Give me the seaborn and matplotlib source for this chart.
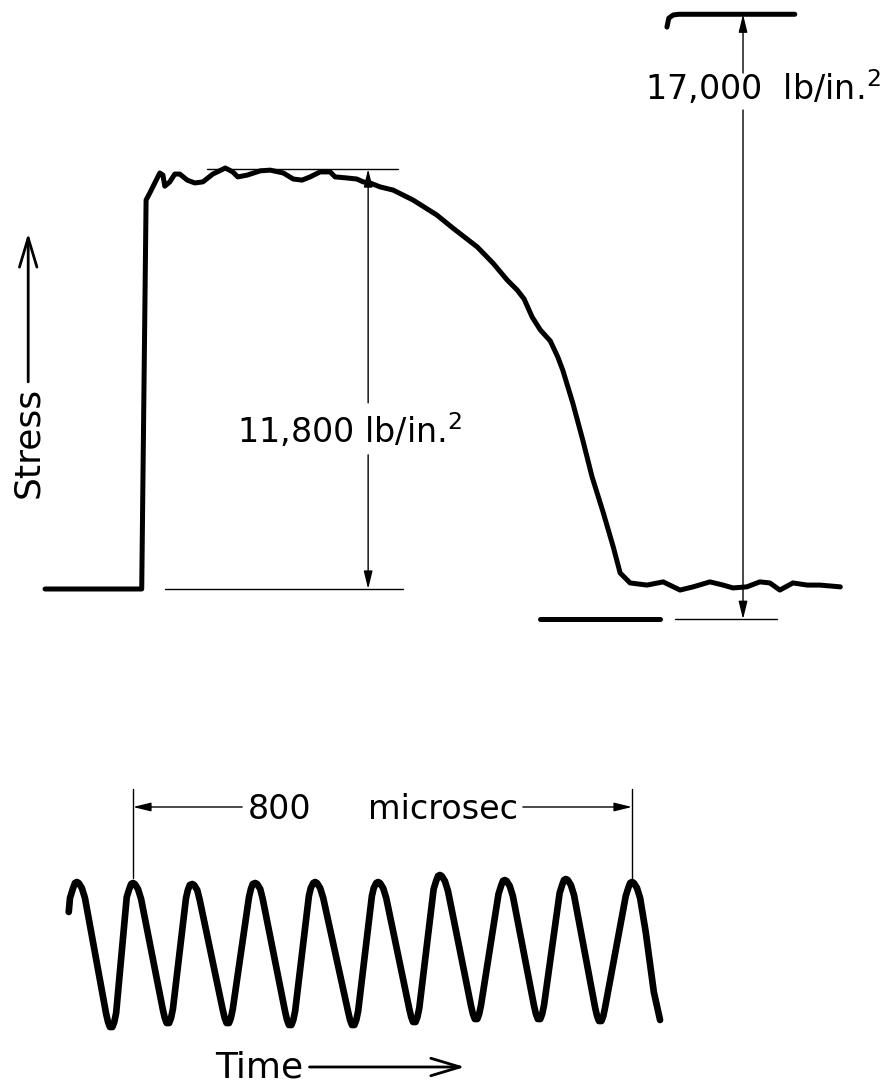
import matplotlib
matplotlib.use("Agg")
import numpy as np
import pandas as pd
import seaborn as sns
import matplotlib.pyplot as plt

# ---------------- data (time in microseconds, stress in lb/in^2) ----------------
stress_time = [-141, 14, 21, 27, 35, 43, 48, 51, 59, 67, 75, 87, 99, 112, 128, 148,
               160, 168, 183, 204, 220, 241, 257, 271, 284, 300, 316, 324, 343, 359,
               369, 380, 396, 417, 449, 487, 513, 552, 577, 600, 616, 627, 640, 653,
               669, 681, 689, 705, 721, 736, 754, 770, 781, 797, 824, 850, 877, 898,
               925, 946, 962, 984, 1005, 1021, 1037, 1058, 1081, 1101, 1134]
stress_value = [0, 0, 10930, 11130, 11410, 11690, 11630, 11320, 11440, 11660, 11660,
                11490, 11410, 11440, 11660, 11830, 11720, 11580, 11630, 11750, 11770,
                11690, 11520, 11490, 11580, 11720, 11720, 11580, 11550, 11520, 11440,
                11410, 11300, 11210, 10930, 10510, 10140, 9610, 9160, 8680, 8400, 8150,
                7640, 7280, 6970, 6520, 6150, 5230, 4190, 3150, 2140, 1180, 450, 170,
                110, 200, -30, 60, 200, 110, 30, 60, 200, 170, -30, 170, 110, 110, 60]

# upper reference trace (17,000 lb/in^2 level) and lower reference trace
upper_ref_time = [856, 859, 866, 875, 1061]
upper_ref_value = [15790, 16040, 16130, 16150, 16150]
lower_ref_time = [652, 845]
lower_ref_value = [-850, -850]

# dimension values
dim_small = 11800
dim_large = 17000
dim_large_base = -850

# timing wave (10 kHz, arbitrary amplitude units)
wave_time = [-103, -101, -96, -93, -90, -87, -82, -77,
             -43, -40, -37, -33, -30, -27,
             -10, -6, -3, 0, 3, 8, 13,
             48, 51, 54, 58, 61, 64,
             85, 88, 91, 95, 98, 103, 107,
             144, 147, 150, 154, 157, 160,
             186, 189, 192, 196, 199, 204, 208,
             244, 247, 250, 254, 257, 260,
             282, 285, 289, 292, 295, 300, 305,
             345, 348, 351, 355, 358, 361,
             383, 386, 390, 393, 396, 401, 406,
             443, 446, 449, 453, 456, 459,
             482, 486, 489, 492, 495, 500, 505,
             542, 545, 548, 552, 555, 558,
             586, 590, 593, 596, 599, 604, 609,
             643, 646, 649, 653, 656, 659,
             684, 688, 691, 694, 697, 702, 707,
             741, 744, 747, 751, 754, 757,
             790, 794, 797, 800, 803, 808, 813,
             822, 835, 845]
wave_value = [38, 52, 62, 67, 68, 67, 62, 52,
              -64, -72, -77, -77, -72, -63,
              53, 61, 66, 67, 66, 61, 51,
              -60, -68, -73, -73, -68, -59,
              52, 60, 65, 66, 65, 60, 50,
              -60, -68, -73, -73, -68, -59,
              53, 61, 66, 67, 66, 61, 51,
              -62, -70, -75, -75, -70, -61,
              54, 62, 67, 68, 67, 62, 52,
              -62, -70, -75, -75, -70, -61,
              54, 62, 67, 68, 67, 62, 52,
              -59, -67, -72, -72, -67, -58,
              61, 69, 74, 75, 74, 69, 59,
              -56, -64, -69, -69, -64, -55,
              56, 64, 69, 70, 69, 64, 54,
              -56, -64, -69, -69, -64, -55,
              57, 65, 70, 71, 70, 65, 55,
              -58, -66, -71, -71, -66, -57,
              54, 62, 67, 68, 67, 62, 52,
              18, -42, -70]
timing_span = [0, 800]

# ---------------- figure ----------------
sns.set_theme(style="white")
plt.rcParams["font.family"] = ["DejaVu Sans"]

fig = plt.figure(figsize=(8.84, 10.85), dpi=100)
ax = fig.add_axes([0, 0, 1, 1])
ax2 = fig.add_axes([0, 0, 1, 1])
for a in (ax, ax2):
    a.set_axis_off()
    a.patch.set_alpha(0)
    a.set_xlim(-213.2, 1204.0)
ax.set_ylim(-13938, 16551)
ax2.set_ylim(-135, 950)

K = "black"
thick = dict(color=K, lw=3.6, solid_capstyle="round", solid_joinstyle="round")

sns.lineplot(x=stress_time, y=stress_value, ax=ax, sort=False, estimator=None, **thick)
sns.lineplot(x=upper_ref_time, y=upper_ref_value, ax=ax, sort=False, estimator=None, **thick)
sns.lineplot(x=lower_ref_time, y=lower_ref_value, ax=ax, sort=False, estimator=None, **thick)
sns.lineplot(x=wave_time, y=wave_value, ax=ax2, sort=False, estimator=None,
             color=K, lw=4.8, solid_capstyle="round", solid_joinstyle="round")

thin = dict(color=K, lw=1.0)
small_head = dict(arrowstyle="-|>,head_length=0.9,head_width=0.22", color=K, lw=1.0,
                  mutation_scale=12, shrinkA=0, shrinkB=0)
big_head = dict(arrowstyle="->,head_length=1.5,head_width=0.45", color=K, lw=2.0,
                mutation_scale=14, shrinkA=0, shrinkB=0)

# 11,800 dimension
ax.plot([119, 425], [dim_small, dim_small], **thin)
ax.plot([51, 433], [0, 0], **thin)
ax.annotate("", xy=(377, dim_small), xytext=(377, 5230), arrowprops=small_head)
ax.annotate("", xy=(377, 0), xytext=(377, 3770), arrowprops=small_head)
ax.text(167, 4100, "11,800 lb/in.$^{\\mathregular{2}}$", ha="left", va="baseline",
        fontsize=24, color=K)

# 17,000 dimension
ax.plot([869, 1032], [dim_large_base, dim_large_base], **thin)
ax.annotate("", xy=(978, dim_large_base + dim_large), xytext=(978, 14500), arrowprops=small_head)
ax.annotate("", xy=(978, dim_large_base), xytext=(978, 13460), arrowprops=small_head)
ax.text(821, 13740, "17,000  lb/in.$^{\\mathregular{2}}$", ha="left", va="baseline",
        fontsize=24, color=K)

# Stress axis label
ax.text(-168, 4130, "Stress", rotation=90, ha="center", va="center", fontsize=26, color=K)
ax.annotate("", xy=(-168, 10000), xytext=(-168, 5820), arrowprops=big_head)

# timing markers
for t in timing_span:
    ax2.plot([t, t], [72, 161], **thin)
ax2.annotate("", xy=(timing_span[0], 143), xytext=(175, 143), arrowprops=small_head)
ax2.annotate("", xy=(timing_span[1], 143), xytext=(625, 143), arrowprops=small_head)
ax2.text(184, 131, "800", ha="left", va="baseline", fontsize=24, color=K)
ax2.text(617, 131, "microsec", ha="right", va="baseline", fontsize=24, color=K)

# Time label
ax2.text(131, -118, "Time", ha="left", va="center", fontsize=26, color=K)
ax2.annotate("", xy=(532, -117), xytext=(283, -117), arrowprops=big_head)

fig.savefig("out.png", dpi=100, facecolor="white")
